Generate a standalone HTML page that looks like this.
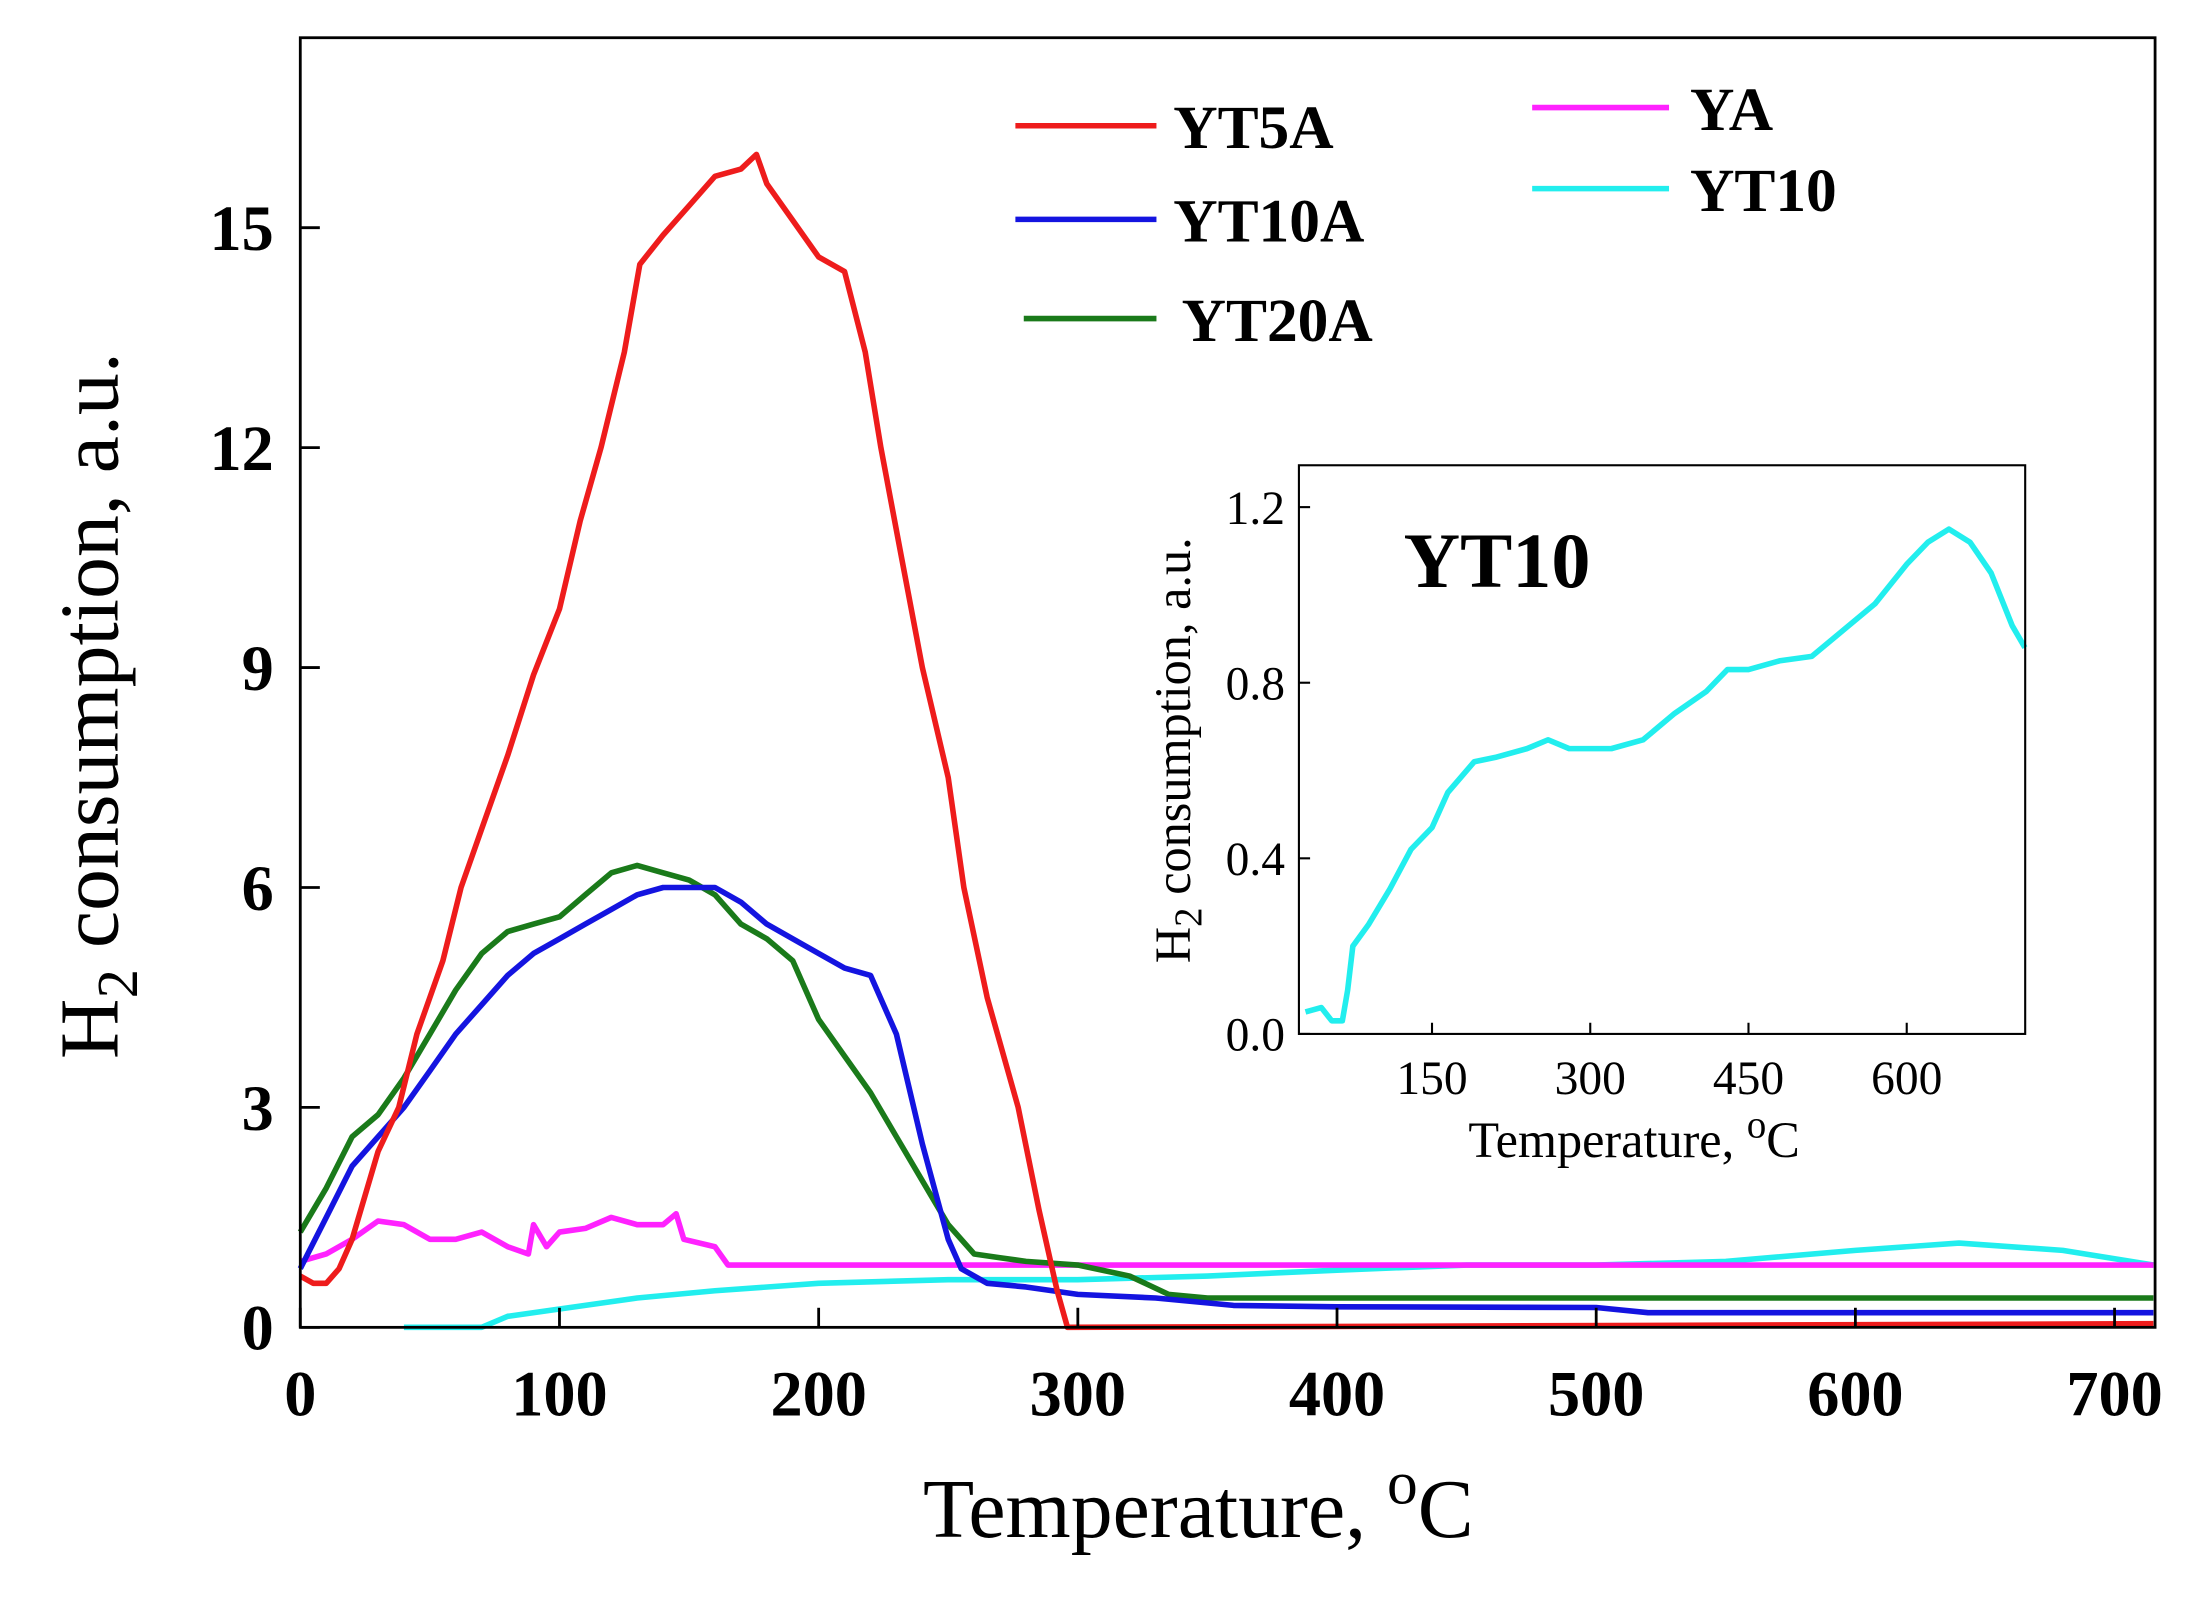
<!DOCTYPE html>
<html><head><meta charset="utf-8"><style>
html,body{margin:0;padding:0;background:#fff;}
svg{display:block;}
text{font-family:"Liberation Serif",serif;}
</style></head><body>
<svg id="chart" width="2190" height="1597" viewBox="0 0 1568 1143" preserveAspectRatio="none" xmlns="http://www.w3.org/2000/svg">
<rect x="0" y="0" width="1568" height="1143" fill="#fff"/>
<g id="main"></g>
<g id="inset"></g>
</svg>
<script>
const xTicksMain = [0,100,200,300,400,500,600,700];
const yTicksMain = [0,3,6,9,12,15];
const tYT5A = [0,5,10,15,20,25,30,38,45,55,62,70,80,90,100,108,116,125,131,140,150,160,170,176,180,190,200,210,218,224,232,240,250,256,265,277,285,292,296,715];
const vYT5A = [0.7,0.6,0.6,0.8,1.2,1.8,2.4,3,4,5,6,6.8,7.8,8.9,9.8,11,12,13.3,14.5,14.9,15.3,15.7,15.8,16,15.6,15.1,14.6,14.4,13.3,12,10.5,9,7.5,6,4.5,3,1.6,0.5,0,0.05];
const tYT10A = [0,10,20,30,40,50,60,70,80,90,100,110,120,130,140,150,160,170,180,190,200,210,220,230,240,250,255,265,280,300,330,360,400,500,520,715];
const vYT10A = [0.8,1.5,2.2,2.6,3,3.5,4,4.4,4.8,5.1,5.3,5.5,5.7,5.9,6,6,6,5.8,5.5,5.3,5.1,4.9,4.8,4,2.5,1.2,0.8,0.6,0.55,0.45,0.4,0.3,0.28,0.27,0.2,0.2];
const tYT20A = [0,10,20,30,40,50,60,70,80,90,100,110,120,130,140,150,160,170,180,190,200,210,220,230,240,250,260,270,280,300,320,335,350,715];
const vYT20A = [1.3,1.9,2.6,2.9,3.4,4,4.6,5.1,5.4,5.5,5.6,5.9,6.2,6.3,6.2,6.1,5.9,5.5,5.3,5.0,4.2,3.7,3.2,2.6,2,1.4,1.0,0.95,0.9,0.85,0.7,0.45,0.4,0.4];
const tYA = [0,10,20,30,40,50,60,70,80,88,90,95,100,110,120,130,140,145,148,160,165,715];
const vYA = [0.9,1,1.2,1.45,1.4,1.2,1.2,1.3,1.1,1.0,1.4,1.1,1.3,1.35,1.5,1.4,1.4,1.55,1.2,1.1,0.85,0.85];
const tYT10 = [40,70,80,100,130,160,200,250,300,350,400,450,500,550,600,640,680,715];
const vYT10 = [0,0,0.15,0.25,0.4,0.5,0.6,0.65,0.65,0.7,0.78,0.85,0.85,0.9,1.05,1.15,1.05,0.85];
const xTicksInset = [150,300,450,600];
const yTicksInset = ["0.0","0.4","0.8","1.2"];
const tInset = [30,45,55,65,70,75,90,110,130,150,165,190,210,240,260,280,300,320,350,380,410,430,450,480,510,540,570,600,620,640,660,680,700,712];
const vInset = [0.05,0.06,0.03,0.03,0.1,0.2,0.25,0.33,0.42,0.47,0.55,0.62,0.63,0.65,0.67,0.65,0.65,0.65,0.67,0.73,0.78,0.83,0.83,0.85,0.86,0.92,0.98,1.07,1.12,1.15,1.12,1.05,0.93,0.88];

const NS="http://www.w3.org/2000/svg";
function mk(tag, attrs, parent){const e=document.createElementNS(NS,tag);for(const k in attrs)e.setAttribute(k,attrs[k]);parent.appendChild(e);return e;}
const main=document.getElementById('main');
const inset=document.getElementById('inset');
const ML=215,MR=1543,MT=27,MB=950;
const mx=t=>ML+t*1.8557;
const my=v=>MB-v*52.47;
function pathOf(ts,vs,fx,fy){return ts.map((t,i)=>(i?'L':'M')+fx(t).toFixed(1)+','+fy(vs[i]).toFixed(1)).join(' ');}

const series=[["YT10",tYT10,vYT10,"#22eeee"],["YA",tYA,vYA,"#ff22ff"],["YT20A",tYT20A,vYT20A,"#1a7a1a"],["YT10A",tYT10A,vYT10A,"#1414e0"],["YT5A",tYT5A,vYT5A,"#ee1c1c"]];
series.forEach(s=>{
  const p=mk('path',{d:pathOf(s[1],s[2],mx,my),fill:'none',stroke:s[3],'stroke-width':4,'stroke-linejoin':'round'},main);
  
  
});
const fr=mk('rect',{x:ML,y:MT,width:MR-ML,height:MB-MT,fill:'none',stroke:'#000','stroke-width':2},main);


xTicksMain.forEach(t=>{
  mk('line',{x1:mx(t),x2:mx(t),y1:MB,y2:MB-14,stroke:'#000','stroke-width':2},main);
  const tx=mk('text',{x:mx(t),y:1013,'font-size':46,'font-weight':'bold','text-anchor':'middle'},main);
  tx.textContent=t;
  
  
});
yTicksMain.forEach(v=>{
  mk('line',{x1:ML,x2:ML+14,y1:my(v),y2:my(v),stroke:'#000','stroke-width':2},main);
  const tx=mk('text',{x:196,y:my(v)+16,'font-size':46,'font-weight':'bold','text-anchor':'end'},main);
  tx.textContent=v;
  
  
});
const xt=mk('text',{x:858,y:1100,'font-size':60,'text-anchor':'middle'},main);
xt.innerHTML='Temperature, <tspan dy="-24" font-size="44">o</tspan><tspan dy="24">C</tspan>';


const yt=mk('text',{x:0,y:0,'font-size':60,'text-anchor':'middle',transform:'translate(84,505) rotate(-90)'},main);
yt.innerHTML='H<tspan dy="14" font-size="42">2</tspan><tspan dy="-14"> consumption, a.u.</tspan>';


const legend=[["YT5A","#ee1c1c",727,828,90,840],["YT10A","#1414e0",727,828,157,840],["YT20A","#1a7a1a",733,828,228,846],["YA","#ff22ff",1097,1195,77,1210],["YT10","#22eeee",1097,1195,135,1210]];
legend.forEach(l=>{
  const g=mk('g',{},main);
  
  
  mk('line',{x1:l[2],x2:l[3],y1:l[4],y2:l[4],stroke:l[1],'stroke-width':4},g);
  const tx=mk('text',{x:l[5],y:l[4]+16,'font-size':44,'font-weight':'bold'},g);
  tx.textContent=l[0];
});
const IL=930,IR=1450,IT=333,IB=740;
const ix=t=>912+t*0.7553;
const iy=v=>IB-v*314.2;
const ip=mk('path',{d:pathOf(tInset,vInset,ix,iy),fill:'none',stroke:'#22eeee','stroke-width':4,'stroke-linejoin':'round'},inset);


const ifr=mk('rect',{x:IL,y:IT,width:IR-IL,height:IB-IT,fill:'none',stroke:'#000','stroke-width':1.5},inset);


xTicksInset.forEach(t=>{
  mk('line',{x1:ix(t),x2:ix(t),y1:IB,y2:IB-8,stroke:'#000','stroke-width':1.5},inset);
  const tx=mk('text',{x:ix(t),y:783,'font-size':34,'text-anchor':'middle'},inset);
  tx.textContent=t;
  
  
});
yTicksInset.forEach(s=>{
  const v=parseFloat(s);
  mk('line',{x1:IL,x2:IL+8,y1:iy(v),y2:iy(v),stroke:'#000','stroke-width':1.5},inset);
  const tx=mk('text',{x:920,y:iy(v)+12,'font-size':34,'text-anchor':'end'},inset);
  tx.textContent=s;
  
  
});
const ixt=mk('text',{x:1170,y:828,'font-size':36,'text-anchor':'middle'},inset);
ixt.innerHTML='Temperature, <tspan dy="-14" font-size="28">o</tspan><tspan dy="14">C</tspan>';


const iyt=mk('text',{x:0,y:0,'font-size':36,'text-anchor':'middle',transform:'translate(852,537) rotate(-90)'},inset);
iyt.innerHTML='H<tspan dy="8" font-size="28">2</tspan><tspan dy="-8"> consumption, a.u.</tspan>';


const ititle=mk('text',{x:1005,y:420,'font-size':56,'font-weight':'bold'},inset);
ititle.textContent='YT10';


</script>
</body></html>
